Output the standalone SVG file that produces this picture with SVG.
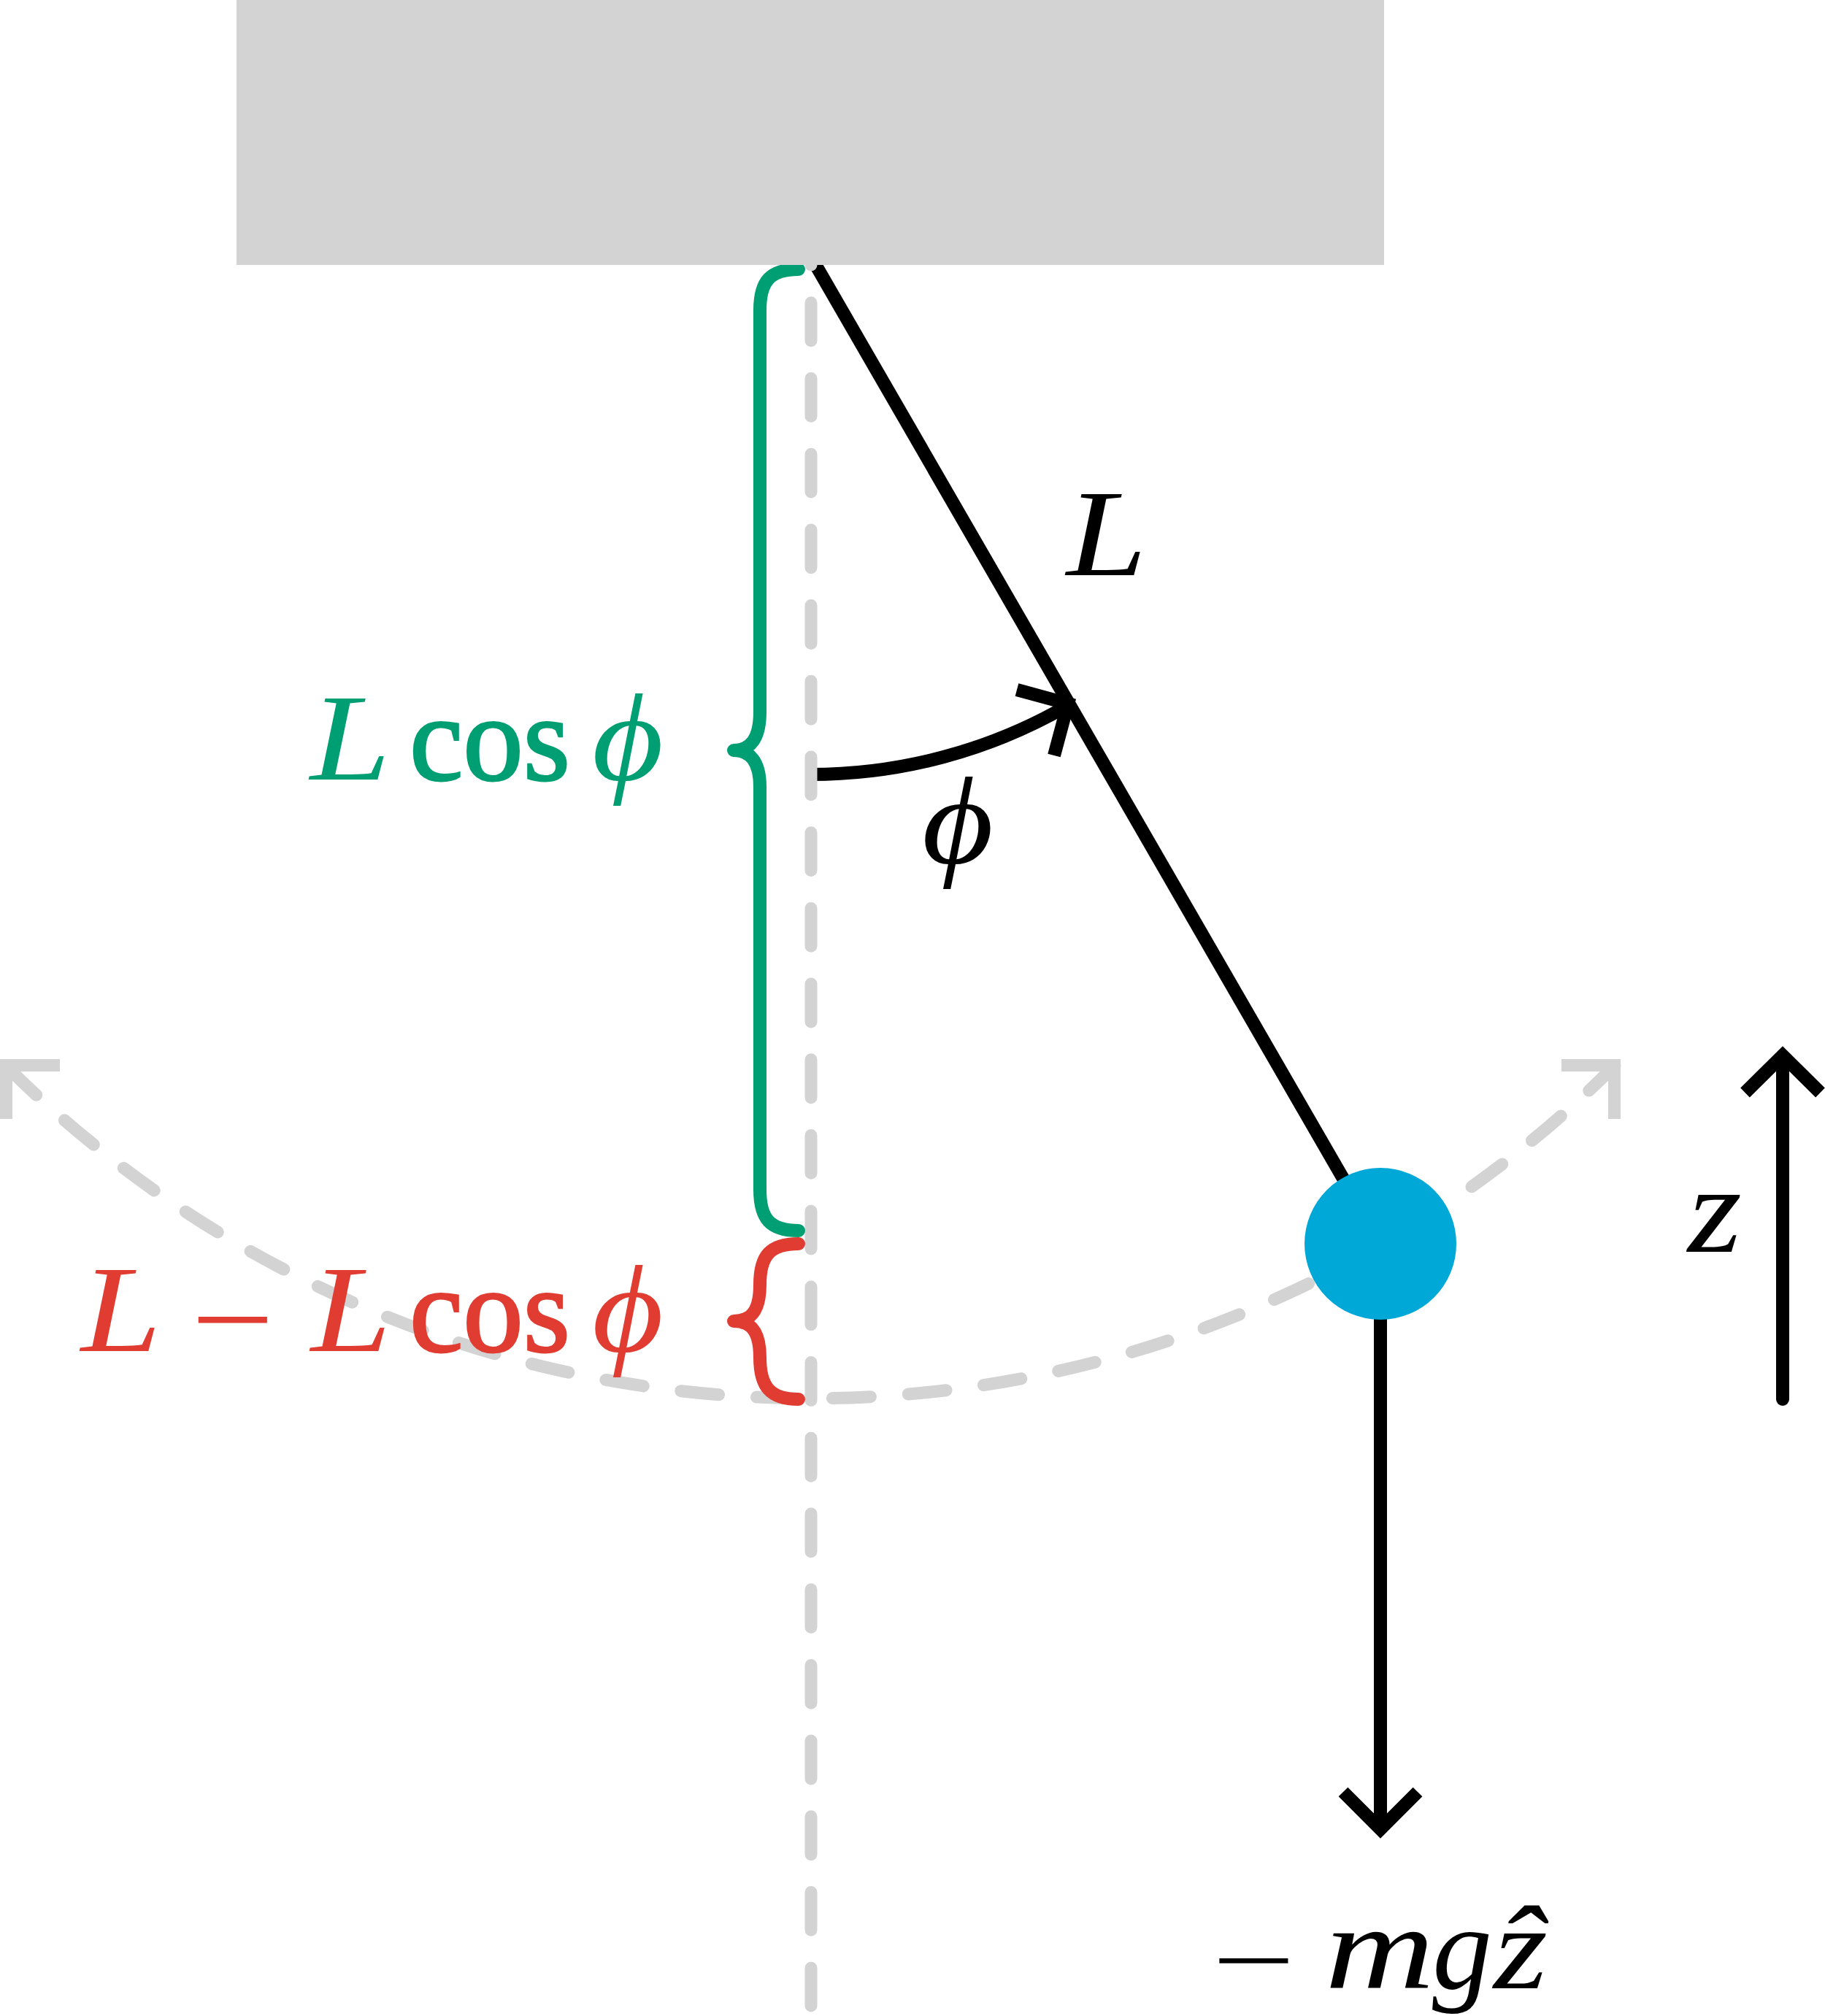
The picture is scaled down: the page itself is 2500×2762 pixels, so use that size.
<svg xmlns="http://www.w3.org/2000/svg" width="2500" height="2762" viewBox="0 0 2500 2762">
<style>
.i{font-family:"Liberation Serif",serif;font-style:italic;font-size:170px}
.r{font-family:"Liberation Serif",serif;font-size:168px}
.f .i{font-size:164px}
.f .r{font-size:135px}
.k{fill:#000}.g{fill:#009E73}.e{fill:#E03C31}
.g .c{stroke:#009E73;stroke-width:3}.e .c{stroke:#E03C31;stroke-width:3}
.ln{fill:none;stroke-width:18}
.gray{stroke:#D3D3D3;stroke-width:17}.blk{stroke:#000}
.dash{stroke-dasharray:52 52;stroke-linecap:round}
.rc{stroke-linecap:round;stroke-linejoin:round}
</style>
<rect width="2500" height="2762" fill="#fff"/>
<g id="connectors">
<path id="rod" class="ln blk" d="M1111,352L1891,1703"/>
<path id="phi-arc" class="ln blk" d="M1111,1061A704,704 0 0 0 1462,967"/>
<path id="phi-head" class="ln blk" d="M1393,945L1463,964L1444,1035"/>
<path id="force" class="ln blk" d="M1891,1703V2500"/>
<path id="force-head" class="ln blk" d="M1840,2455L1891,2506L1942,2455"/>
<path id="z-axis" class="ln blk rc" d="M2442,1917V1450"/>
<path id="z-head" class="ln blk" d="M2390.5,1497L2442,1446L2493.500,1497"/>
<path id="arc" class="ln gray dash" stroke-dashoffset="-6" d="M8,1460A1560,1560 0 0 0 2212,1460"/>
<path id="arc-head-left" class="ln gray" d="M82,1459.5H8.500V1533"/>
<path id="arc-head-right" class="ln gray" d="M2139,1459.5H2211.500V1533"/>
<path id="vertical" class="ln gray dash" style="stroke-dasharray:51.85 51.85" d="M1111,0V2752"/>
<path id="brace-green" class="ln rc" stroke="#009E73" d="M1094,369C1055,369 1041,385 1041,425V975C1041,1012 1028,1028 1005,1028C1028,1028 1041,1044 1041,1078V1630C1041,1670 1055,1686 1094,1686"/>
<path id="brace-red" class="ln rc" stroke="#E03C31" d="M1094,1704C1055,1704 1041,1720 1041,1760C1041,1795 1030,1810 1005,1810C1030,1810 1041,1825 1041,1860C1041,1900 1055,1917 1094,1917"/>
</g>
<g id="support"><rect x="324" y="0" width="1572" height="363" fill="#D3D3D3"/></g>
<g id="bob"><circle cx="1891" cy="1704" r="104" fill="#00A8D8"/></g>
<g id="label-L"><text class="i k" x="1461" y="788" textLength="110" lengthAdjust="spacingAndGlyphs">L</text></g>
<g id="label-phi"><text class="i k" x="1263" y="1182" textLength="98" lengthAdjust="spacingAndGlyphs">ϕ</text></g>
<g id="label-green"><text class="g" y="1068"><tspan class="i" x="425" textLength="110" lengthAdjust="spacingAndGlyphs">L</tspan> <tspan class="r c" x="561" textLength="220" lengthAdjust="spacingAndGlyphs">cos</tspan> <tspan class="i" x="811" textLength="98" lengthAdjust="spacingAndGlyphs">ϕ</tspan></text></g>
<g id="label-red"><text class="e" y="1851"><tspan class="i" x="111" textLength="110" lengthAdjust="spacingAndGlyphs">L</tspan> <tspan class="r" dy="13" x="262" textLength="114" lengthAdjust="spacingAndGlyphs">−</tspan> <tspan class="i" dy="-13" x="426" textLength="110" lengthAdjust="spacingAndGlyphs">L</tspan> <tspan class="r c" x="561" textLength="220" lengthAdjust="spacingAndGlyphs">cos</tspan> <tspan class="i" x="811" textLength="98" lengthAdjust="spacingAndGlyphs">ϕ</tspan></text></g>
<g id="label-z"><text class="i k" x="2312" y="1715" textLength="74" lengthAdjust="spacingAndGlyphs">z</text></g>
<g id="label-force"><text class="k f" y="2724"><tspan class="r" dy="7" x="1660" textLength="114" lengthAdjust="spacingAndGlyphs">−</tspan> <tspan class="i" dy="-7" x="1815" textLength="150" lengthAdjust="spacingAndGlyphs">m</tspan><tspan class="i" x="1962">g</tspan><tspan class="i" x="2046" textLength="74" lengthAdjust="spacingAndGlyphs">ẑ</tspan></text></g>
</svg>
